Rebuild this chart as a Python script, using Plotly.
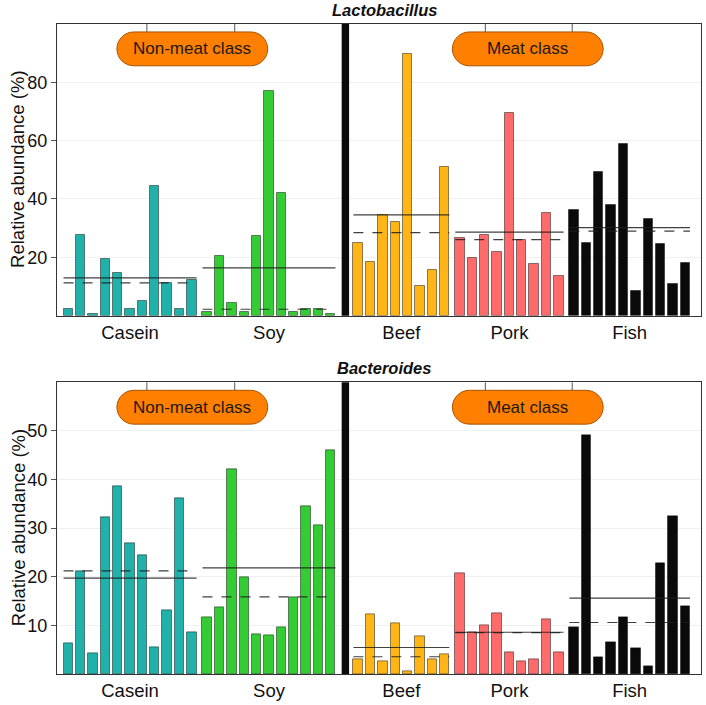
import numpy as np
import plotly.graph_objects as go

# ---------------- data ----------------
groups = ["Casein", "Soy", "Beef", "Pork", "Fish"]
colors = ["#20B2AA", "#33CC33", "#FFB515", "#FF6B6B", "#0A0A0A"]

lacto_casein = [2.4, 27.8, 0.5, 19.4, 14.7, 2.4, 5.1, 44.3, 11.25, 2.4, 12.3]
lacto_soy = [1.1, 20.5, 4.5, 1.4, 27.2, 77.2, 42.0, 1.1, 2.2, 2.2, 0.6]
lacto_beef = [24.8, 18.4, 34.5, 32.2, 89.7, 10.3, 15.7, 51.1]
lacto_pork = [26.5, 19.8, 27.7, 21.7, 69.5, 26.1, 17.7, 35.2, 13.6]
lacto_fish = [36.25, 24.8, 49.1, 38.0, 58.9, 8.5, 33.2, 24.4, 10.9, 18.1]

bact_casein = [6.4, 21.2, 4.2, 32.2, 38.7, 26.8, 24.4, 5.4, 13.1, 36.1, 8.6]
bact_soy = [11.6, 13.8, 42.1, 19.9, 8.2, 8.0, 9.5, 15.85, 34.4, 30.6, 46.0]
bact_beef = [3.0, 12.2, 2.6, 10.4, 0.5, 7.8, 3.0, 4.1]
bact_pork = [20.7, 8.5, 10.0, 12.4, 4.4, 2.6, 3.1, 11.2, 4.4]
bact_fish = [9.6, 49.0, 3.4, 6.6, 11.6, 5.2, 1.6, 22.8, 32.4, 13.9]

lacto_ticks = [20, 40, 60, 80]
bact_ticks = [10, 20, 30, 40, 50]

panels = [
    ("Lactobacillus", [lacto_casein, lacto_soy, lacto_beef, lacto_pork, lacto_fish], lacto_ticks, 100),
    ("Bacteroides", [bact_casein, bact_soy, bact_beef, bact_pork, bact_fish], bact_ticks, 60),
]

# ---------------- layout constants (pixels) ----------------
W, H = 706, 705
L, R = 57, 702
T, B = 24, 677
PW, PH = R - L, B - T
panel_px = [(24, 317), (384, 677)]  # (top, bottom) pixel rows of each plot


def px2paper(x, y):
    return (x - L) / PW, (B - y) / PH


# group start positions (bar index units)
group_gap = [1.24, 2.21, 1.24, 1.23]
sizes = [len(v) for v in panels[0][1]]
starts = [0.0]
for gi in range(1, len(sizes)):
    starts.append(starts[-1] + sizes[gi - 1] - 1 + group_gap[gi - 1])
sep_x = 22.42
xrange_ = [-0.91, 51.19]
bar_w = 0.76

fig = go.Figure()

for pi, (title, data, ticks, ymax) in enumerate(panels):
    xa = "x" if pi == 0 else "x2"
    ya = "y" if pi == 0 else "y2"
    for gi, vals in enumerate(data):
        xs = [starts[gi] + i for i in range(len(vals))]
        fig.add_trace(go.Bar(
            x=xs, y=vals, width=bar_w, xaxis=xa, yaxis=ya,
            marker=dict(color=colors[gi], line=dict(color="rgba(0,0,0,0.45)", width=1)),
            showlegend=False, hoverinfo="y",
        ))
    # mean / median lines
    for gi, vals in enumerate(data):
        x0 = starts[gi] - bar_w / 2
        x1 = starts[gi] + len(vals) - 1 + bar_w / 2
        m = float(np.mean(vals))
        md = float(np.median(vals))
        fig.add_trace(go.Scatter(
            x=[x0, x1], y=[md, md], mode="lines", xaxis=xa, yaxis=ya,
            line=dict(color="rgba(30,30,30,0.85)", width=1.2, dash="10px,9px"),
            showlegend=False, hoverinfo="skip"))
        fig.add_trace(go.Scatter(
            x=[x0, x1], y=[m, m], mode="lines", xaxis=xa, yaxis=ya,
            line=dict(color="rgba(30,30,30,0.85)", width=1.2),
            showlegend=False, hoverinfo="skip"))

    # separator bar
    fig.add_shape(type="rect", xref=xa, yref=ya + " domain", x0=sep_x - 0.3, x1=sep_x + 0.3,
                  y0=0, y1=1, fillcolor="#0A0A0A", line=dict(width=0), layer="above")

    ptop, pbot = panel_px[pi]
    # connectors + class pills
    for (bx0, bx1, cx0, cx1, label) in [(117, 268, 147, 235, "Non-meat class"),
                                         (453, 604, 486, 573, "Meat class")]:
        for cx in (cx0, cx1):
            xa_p, ya_p0 = px2paper(cx, ptop)
            _, ya_p1 = px2paper(cx, ptop + 8)
            fig.add_shape(type="line", xref="paper", yref="paper", x0=xa_p, x1=xa_p,
                          y0=ya_p0, y1=ya_p1, line=dict(color="#555", width=1))
        y0 = ptop + 8
        y1 = ptop + 42
        r = (y1 - y0) / 2
        k = 0.5523 * r
        ym = y0 + r
        pts = [
            ("M", [(bx0 + r, y0)]),
            ("L", [(bx1 - r, y0)]),
            ("C", [(bx1 - r + k, y0), (bx1, ym - k), (bx1, ym)]),
            ("C", [(bx1, ym + k), (bx1 - r + k, y1), (bx1 - r, y1)]),
            ("L", [(bx0 + r, y1)]),
            ("C", [(bx0 + r - k, y1), (bx0, ym + k), (bx0, ym)]),
            ("C", [(bx0, ym - k), (bx0 + r - k, y0), (bx0 + r, y0)]),
        ]
        path = ""
        for cmd, plist in pts:
            path += cmd + " " + " ".join("%.5f,%.5f" % px2paper(px, py) for px, py in plist) + " "
        path += "Z"
        fig.add_shape(type="path", xref="paper", yref="paper", path=path,
                      fillcolor="#FF7F00", line=dict(color="#A65300", width=1))
        tx, ty = px2paper((bx0 + bx1) / 2, ym)
        fig.add_annotation(x=tx, y=ty, xref="paper", yref="paper", text=label, showarrow=False,
                           font=dict(size=17, color="#1a1a1a"), xanchor="center", yanchor="middle")

    # title
    tx, ty = px2paper(385, ptop - 14)
    fig.add_annotation(x=tx, y=ty, xref="paper", yref="paper", text="<b><i>%s</i></b>" % title,
                       showarrow=False, font=dict(size=16.5, color="#111"), xanchor="center", yanchor="middle")
    # y-axis title
    tx, ty = px2paper(18, (ptop + pbot) / 2)
    fig.add_annotation(x=tx, y=ty, xref="paper", yref="paper", text="Relative abundance (%)",
                       textangle=-90, showarrow=False, font=dict(size=18.5, color="#111"),
                       xanchor="center", yanchor="middle")

    dom = [px2paper(0, pbot)[1], px2paper(0, ptop)[1]]
    group_centers = [starts[gi] + (len(v) - 1) / 2 for gi, v in enumerate(data)]
    xaxis = dict(range=xrange_, domain=[0, 1], anchor=ya, showline=True, mirror=True,
                 linecolor="#333", linewidth=1, showgrid=False, zeroline=False,
                 tickmode="array", tickvals=group_centers, ticktext=groups, ticks="",
                 tickfont=dict(size=18.5, color="#111"))
    yaxis = dict(range=[0, ymax], domain=dom, anchor=xa, showline=True, mirror=True,
                 linecolor="#333", linewidth=1, showgrid=True, gridcolor="#f0f0f0",
                 zeroline=False, tickmode="array", tickvals=ticks, ticks="outside",
                 ticklen=5, tickcolor="#555", tickfont=dict(size=18, color="#111"))
    if pi == 0:
        fig.update_layout(xaxis=xaxis, yaxis=yaxis)
    else:
        fig.update_layout(xaxis2=xaxis, yaxis2=yaxis)

fig.update_layout(
    width=W, height=H, autosize=False,
    margin=dict(l=L, r=W - R, t=T, b=H - B, pad=0),
    plot_bgcolor="white", paper_bgcolor="white",
    font=dict(family="Liberation Sans, Arial, sans-serif"),
    bargap=0, showlegend=False,
)

fig.write_html("out.html", config={"displayModeBar": False},
               post_script="document.body.style.margin='0';document.body.style.overflow='hidden';")
